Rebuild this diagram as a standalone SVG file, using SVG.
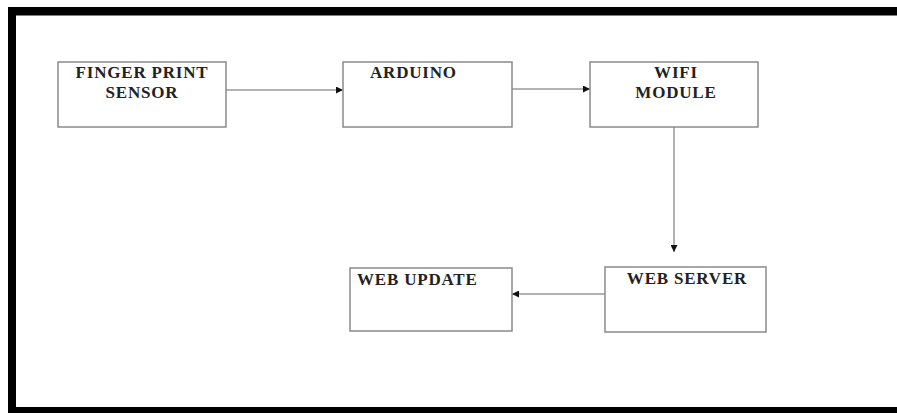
<svg xmlns="http://www.w3.org/2000/svg" width="897" height="413" viewBox="0 0 897 413">
<defs>
<style>
.box{fill:#fff;stroke:#8a8a8a;stroke-width:1.5}
.t{font-family:"Liberation Serif","Times New Roman",serif;font-weight:bold;font-size:17px;letter-spacing:0.8px;fill:#222}
.c{text-anchor:middle}
.ln{stroke:#666;stroke-width:1;fill:none}
</style>
<marker id="ah" viewBox="0 0 10 10" refX="10" refY="5" markerWidth="7" markerHeight="7" markerUnits="userSpaceOnUse" orient="auto">
<path d="M0,0 L10,5 L0,10 z" fill="#111"/>
</marker>
</defs>
<rect x="0" y="0" width="897" height="413" fill="#fff"/>
<g id="frame">
<rect x="8" y="7" width="889" height="8.5" fill="#000"/>
<rect x="8" y="7" width="8" height="406" fill="#000"/>
<rect x="8" y="407" width="889" height="6" fill="#000"/>
</g>
<g id="connectors">
<line class="ln" x1="226" y1="90" x2="343" y2="90" marker-end="url(#ah)"/>
<line class="ln" x1="512" y1="89" x2="590" y2="89" marker-end="url(#ah)"/>
<line class="ln" x1="674" y1="127" x2="674" y2="252" marker-end="url(#ah)"/>
<line class="ln" x1="605" y1="294" x2="512" y2="294" marker-end="url(#ah)"/>
</g>
<g id="fingerprint">
<rect class="box" x="58" y="62" width="168" height="65"/>
<text class="t c" x="142" y="78">FINGER PRINT</text>
<text class="t c" x="142" y="98">SENSOR</text>
</g>
<g id="arduino">
<rect class="box" x="343" y="62" width="169" height="65"/>
<text class="t" x="370" y="78">ARDUINO</text>
</g>
<g id="wifi">
<rect class="box" x="590" y="62" width="168" height="65"/>
<text class="t c" x="676" y="78">WIFI</text>
<text class="t c" x="676" y="98">MODULE</text>
</g>
<g id="webserver">
<rect class="box" x="605" y="267" width="161" height="65"/>
<text class="t c" x="687" y="284">WEB SERVER</text>
</g>
<g id="webupdate">
<rect class="box" x="350" y="268" width="162" height="63"/>
<text class="t" x="357" y="285">WEB UPDATE</text>
</g>
</svg>
